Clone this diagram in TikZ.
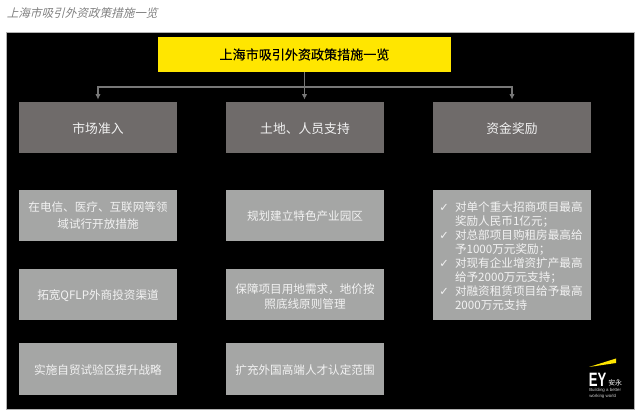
\documentclass[tikz,border=0pt]{standalone}
\usepackage{graphicx}
\usepackage{fontspec}
\setmainfont{Noto Sans CJK SC}
\newfontfamily\captionfont[FakeSlant=0.25]{Noto Sans CJK SC}
\newfontfamily\topfont[FakeBold=0.3]{Noto Sans CJK SC}
\newfontfamily\tickfont{DejaVu Sans}
\newfontfamily\logofont{Liberation Sans}
\usetikzlibrary{arrows.meta,calc,positioning}
\definecolor{panel}{HTML}{000000}
\definecolor{eyyellow}{HTML}{FFE600}
\definecolor{headgrey}{HTML}{6F6B6A}
\definecolor{bodygrey}{HTML}{A5A6A5}
\definecolor{linegrey}{HTML}{777777}
\definecolor{softwhite}{HTML}{F2F2F2}
\newcommand{\tick}{\makebox[12.75pt][l]{\hspace*{1pt}\tickfont\fontsize{8.5}{10.5}\selectfont ✓}}
\newcommand{\tickgap}{\hspace*{12.75pt}}
\tikzset{
  headbox/.style={fill=headgrey,draw=none,text=softwhite,minimum width=118.5pt,minimum height=38.5pt,inner sep=0pt,text height=9.5pt,font=\fontsize{9.6}{12}\selectfont,align=center},
  bodybox/.style={fill=bodygrey,draw=none,text=softwhite,minimum width=118.5pt,minimum height=38.5pt,inner sep=0pt,font=\fontsize{8.7}{11}\selectfont,align=center},
  link/.style={draw=linegrey,line width=0.8pt,-{Latex[length=4pt,width=4pt]},shorten >=1.5pt}
}
\begin{document}
\begin{tikzpicture}[x=0.75pt,y=-0.75pt]
\useasboundingbox (0,0) rectangle (640,417);
\node[anchor=west,inner sep=0pt,text=gray,font=\fontsize{8.7}{10}\captionfont] (caption) at (6.5,13) {上海市吸引外资政策措施一览};
\fill[panel,draw=gray!60,line width=0.4pt] (6.5,32.5) rectangle (634,409);
\node[fill=eyyellow,minimum width=219.5pt,minimum height=26.5pt,inner sep=0pt,font=\fontsize{9.8}{12}\topfont] (top) at (304.5,54.5) {上海市吸引外资政策措施一览};
% headers
\foreach \n/\x/\t in {head1/98/市场准入,head2/305/土地、人员支持,head3/512/资金奖励}{
  \node[headbox] (\n) at (\x,127.5) {\t};
}
\coordinate (fork) at (304.5,87);
\draw[link] (top.south) -- (top.south |- head2.north);
\draw[link] (fork) -| (head1.north);
\draw[link] (fork) -| (head3.north);
% body boxes
\node[bodybox,font=\fontsize{8.7}{12.75}\selectfont] (body11) at (98,215.5) {在电信、医疗、互联网等领\\域试行开放措施};
\node[bodybox,text height=9pt] (body12) at (98,294.5) {拓宽QFLP外商投资渠道};
\node[bodybox,text height=8.5pt] (body13) at (98,369) {实施自贸试验区提升战略};
\node[bodybox,text height=8.5pt] (body21) at (305,215.5) {规划建立特色产业园区};
\node[bodybox,text height=21pt] (body22) at (305,294.5) {保障项目用地需求，地价按\\照底线原则管理};
\node[bodybox,text height=8.5pt] (body23) at (305,369) {扩充外国高端人才认定范围};
\node[bodybox,font=\fontsize{8.7}{10.5}\selectfont,minimum height=97.5pt,align=left,text width=111pt,inner xsep=3.75pt,text height=8.5pt] (body31) at (512,255) {\tick 对单个重大招商项目最高\\
\tickgap 奖励人民币1亿元；\\
\tick 对总部项目购租房最高给\\
\tickgap 予1000万元奖励；\\
\tick 对现有企业增资扩产最高\\
\tickgap 给予2000万元支持；\\
\tick 对融资租赁项目给予最高\\
\tickgap 2000万元支持};
% logo
\fill[eyyellow] (589,367) -- (616,358.5) -- (616,363) -- cycle;
\node[anchor=south west,inner sep=0pt,text=white,font=\fontsize{14.5}{15}\logofont\bfseries] (logoey) at (588.5,386.5) {\scalebox{0.68}[1]{EY}};
\node[anchor=west,inner sep=0pt,text=white,font=\fontsize{5.2}{6}\selectfont] (logocn) at (608,382.5) {安永};
\node[anchor=north west,inner sep=0pt,text=white!80!black,align=left,font=\fontsize{3.3}{3}\logofont] (logotag) at (589,388.5) {Building a better\\working world};
\end{tikzpicture}
\end{document}
